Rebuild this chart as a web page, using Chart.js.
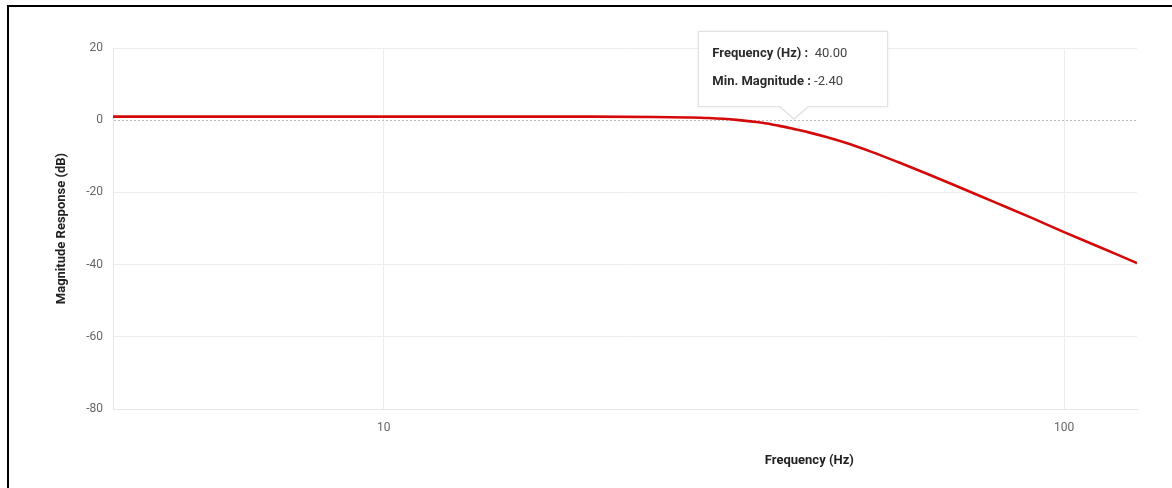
<!DOCTYPE html>
<html>
<head>
<meta charset="utf-8">
<script src="https://cdn.jsdelivr.net/npm/chart.js@4/dist/chart.umd.min.js"></script>
<style>
  html, body { margin: 0; padding: 0; background: #fff; }
  #wrap { position: relative; width: 1172px; height: 488px; overflow: hidden; }
  #frame { position: absolute; left: 7px; top: 5px; width: 1200px; height: 500px;
           border-top: 2px solid #000; border-left: 2px solid #000; pointer-events: none; }
  #chart { position: absolute; left: 0; top: 0; }
  #tip { position: absolute; background: #fff; border: 1px solid #e2e2e2;
         box-shadow: 0 0 3px rgba(0,0,0,0.08); font-family: Roboto, "Noto Sans", sans-serif;
         font-size: 13px; color: #333; padding: 0 14px; box-sizing: border-box; }
  #tip .row { position: absolute; left: 13px; white-space: nowrap; }
  #tip b { font-weight: 700; color: #2b2b2b; }
  #tip span { color: #444; }
  #tip .caret, #tip .caret2 { position: absolute; width: 0; height: 0; }
</style>
</head>
<body>
<div id="wrap">
  <canvas id="chart" width="1172" height="488"></canvas>
  <div id="frame"></div>
  <div id="tip">
    <div class="row" id="r1"></div>
    <div class="row" id="r2"></div>
    <div class="caret"></div>
    <div class="caret2"></div>
  </div>
</div>
<script>
// Magnitude response of the low-pass filter, frequency in Hz, magnitude in dB
const frequencies = [4, 5, 6, 8, 10, 12, 15, 20, 25, 28, 30, 33, 36, 38, 40, 42, 45, 48, 52, 57, 63, 71, 80, 90, 100, 110, 120, 128];
const magnitudes  = [1.0, 1.0, 1.0, 1.0, 1.0, 1.0, 1.0, 0.98, 0.9, 0.76, 0.6, 0.1, -0.7, -1.5, -2.4, -3.3, -4.8, -6.4, -8.7, -11.6, -14.9, -19.0, -23.1, -27.2, -31.0, -34.3, -37.3, -39.6];
const xTicks = [10, 100];
const yTicks = [-80, -60, -40, -20, 0, 20];
const highlightIndex = 14; // 40 Hz

const xTitle = 'Frequency (Hz)';
const yTitle = 'Magnitude Response (dB)';
const tipLabels = ['Frequency (Hz) :', 'Min. Magnitude :'];

const fontFamily = 'Roboto, "Noto Sans", sans-serif';

const points = frequencies.map((f, i) => ({ x: f, y: magnitudes[i] }));

// Free-positioned x axis title
const xTitlePlugin = {
  id: 'xTitlePlugin',
  afterDraw(chart) {
    const { ctx, chartArea } = chart;
    ctx.save();
    ctx.font = 'bold 13px ' + fontFamily;
    ctx.fillStyle = '#222';
    ctx.textAlign = 'center';
    ctx.textBaseline = 'middle';
    const x = chartArea.left + (chartArea.right - chartArea.left) * 0.68;
    ctx.fillText(xTitle, x, 461);
    ctx.restore();
  }
};

// Static tooltip anchored on the highlighted sample, caret resting on the 0 dB line
const tipPlugin = {
  id: 'tipPlugin',
  afterDraw(chart) {
    const xs = chart.scales.x, ys = chart.scales.y;
    const px = xs.getPixelForValue(frequencies[highlightIndex]);
    const py = ys.getPixelForValue(0);
    const tip = document.getElementById('tip');
    const w = 190, h = 76, caretH = 13;
    tip.style.width = w + 'px';
    tip.style.height = h + 'px';
    tip.style.left = (px - w / 2) + 'px';
    tip.style.top = (py - caretH - h) + 'px';
    document.getElementById('r1').innerHTML =
      '<b>' + tipLabels[0] + '</b><span>&nbsp; ' + frequencies[highlightIndex].toFixed(2) + '</span>';
    document.getElementById('r2').innerHTML =
      '<b>' + tipLabels[1] + '</b><span> ' + magnitudes[highlightIndex].toFixed(2) + '</span>';
    document.getElementById('r1').style.top = '13px';
    document.getElementById('r2').style.top = '41px';
    const c1 = tip.querySelector('.caret');
    c1.style.left = (w / 2 - 15) + 'px';
    c1.style.top = h - 1 + 'px';
    c1.style.borderLeft = '15px solid transparent';
    c1.style.borderRight = '15px solid transparent';
    c1.style.borderTop = caretH + 'px solid #e2e2e2';
    const c2 = tip.querySelector('.caret2');
    c2.style.left = (w / 2 - 14) + 'px';
    c2.style.top = h - 2 + 'px';
    c2.style.borderLeft = '14px solid transparent';
    c2.style.borderRight = '14px solid transparent';
    c2.style.borderTop = (caretH - 1) + 'px solid #fff';
  }
};

new Chart(document.getElementById('chart'), {
  type: 'line',
  data: {
    datasets: [{
      data: points,
      borderColor: '#d40a0a',
      borderWidth: 2.6,
      pointRadius: 0,
      fill: false,
      cubicInterpolationMode: 'monotone'
    }]
  },
  options: {
    responsive: false,
    animation: false,
    layout: { padding: { top: 48, right: 35, left: 0, bottom: 0 } },
    plugins: { legend: { display: false }, tooltip: { enabled: false } },
    scales: {
      x: {
        type: 'logarithmic',
        min: 4,
        max: 128,
        afterBuildTicks(scale) { scale.ticks = xTicks.map(v => ({ value: v })); },
        afterFit(scale) { scale.height = 79; },
        ticks: {
          color: '#666',
          font: { family: fontFamily, size: 12 },
          padding: 12,
          maxRotation: 0,
          callback: v => String(v)
        },
        grid: { color: '#ececec', lineWidth: 1, drawTicks: false },
        border: { display: true, color: '#e6e6e6', width: 1 }
      },
      y: {
        min: -80,
        max: 20,
        afterBuildTicks(scale) { scale.ticks = yTicks.map(v => ({ value: v })); },
        afterFit(scale) { scale.width = 113; },
        ticks: {
          color: '#666',
          font: { family: fontFamily, size: 12 },
          padding: 10
        },
        title: {
          display: true,
          text: yTitle,
          color: '#222',
          font: { family: fontFamily, size: 13, weight: 'bold' },
          padding: { top: 54, bottom: 0 }
        },
        grid: {
          drawTicks: false,
          color: ctx => (ctx.tick && ctx.tick.value === 0) ? '#bdbdbd' : '#ececec',
          lineWidth: 1
        },
        border: {
          display: true,
          color: '#e6e6e6',
          dash: ctx => (ctx.tick && ctx.tick.value === 0) ? [2, 2] : []
        }
      }
    }
  },
  plugins: [xTitlePlugin, tipPlugin]
});
</script>
</body>
</html>
